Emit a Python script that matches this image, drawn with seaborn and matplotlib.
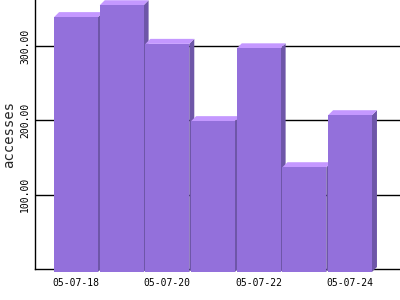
import matplotlib
matplotlib.use("Agg")
import matplotlib.pyplot as plt
import matplotlib.transforms as mtransforms
from matplotlib.patches import Polygon
import seaborn as sns
import pandas as pd

dates = ["05-07-18", "05-07-19", "05-07-20", "05-07-21", "05-07-22", "05-07-23", "05-07-24"]
accesses = [343, 359, 307, 203, 301, 141, 211]
tick_labels = ["05-07-18", "", "05-07-20", "", "05-07-22", "", "05-07-24"]
y_ticks = [100, 200, 300]

front_color = "#9370DB"
top_color = "#C498FF"
side_color = "#6E56A8"

sns.set_style("white")
plt.rcParams["font.family"] = ["DejaVu Sans Mono", "DejaVu Sans"]

df = pd.DataFrame({"date": dates, "accesses": accesses})

fig = plt.figure(figsize=(4, 3), dpi=100)
W, H = 400, 300
ax = fig.add_axes([35 / W, 31 / H, 365 / W, 269 / H])

sns.barplot(data=df, x="date", y="accesses", color=front_color, saturation=1,
            width=0.96, ax=ax, zorder=3)

ax.set_xlim(-0.898, 7.094)
ax.set_ylim(0, 362)

# pixel -> data scale
sx = (7.094 + 0.898) / 365.0
sy = 362.0 / 269.0
drop = 3   # front face drops below the back plane (px)
d = 5      # depth (px)

off = mtransforms.ScaledTranslation(0, -drop / 100.0, fig.dpi_scale_trans)
for p in list(ax.patches):
    x0 = p.get_x()
    w = p.get_width()
    h = p.get_height()
    x1 = x0 + w
    dx, dy = d * sx, d * sy
    side = Polygon([(x1, 0), (x1 + dx, dy), (x1 + dx, h + dy), (x1, h)],
                   closed=True, facecolor=side_color, edgecolor="none",
                   transform=ax.transData + off, clip_on=False, zorder=p.get_zorder())
    top = Polygon([(x0, h), (x0 + dx, h + dy), (x1 + dx, h + dy), (x1, h)],
                  closed=True, facecolor=top_color, edgecolor="none",
                  transform=ax.transData + off, clip_on=False, zorder=p.get_zorder())
    ax.add_patch(side)
    ax.add_patch(top)
    p.set_transform(ax.transData + off)
    p.set_clip_on(False)
    p.set_edgecolor("none")

fronts = ax.patches[:len(dates)]
extras = ax.patches[len(dates):]
for i, p in enumerate(fronts):
    z = 3 + i * 0.1
    extras[2 * i].set_zorder(z)
    extras[2 * i + 1].set_zorder(z)
    p.set_zorder(z + 0.05)

ax.set_yticks(y_ticks)
ax.set_yticklabels([f"{v:.2f}" for v in y_ticks], rotation=90, va="center", fontsize=7)
ax.set_xticks(range(len(dates)))
ax.set_xticklabels(tick_labels, fontsize=7)
shift = mtransforms.ScaledTranslation(2.5 / 100.0, 0, fig.dpi_scale_trans)
for lab in ax.get_xticklabels():
    lab.set_transform(lab.get_transform() + shift)

ax.tick_params(axis="both", length=0, colors="black")
ax.tick_params(axis="y", pad=3.5)
ax.tick_params(axis="x", pad=6.5)

ax.grid(False)
ax.yaxis.grid(True, color="black", linewidth=1)
ax.set_axisbelow(True)

for s in ["top", "right"]:
    ax.spines[s].set_visible(False)
for s in ["left", "bottom"]:
    ax.spines[s].set_visible(True)
    ax.spines[s].set_color("black")
    ax.spines[s].set_linewidth(1)
    ax.spines[s].set_zorder(2)

ax.set_xlabel("")
ax.set_ylabel("accesses", fontsize=10, labelpad=3)

fig.savefig("out.png", dpi=100)
